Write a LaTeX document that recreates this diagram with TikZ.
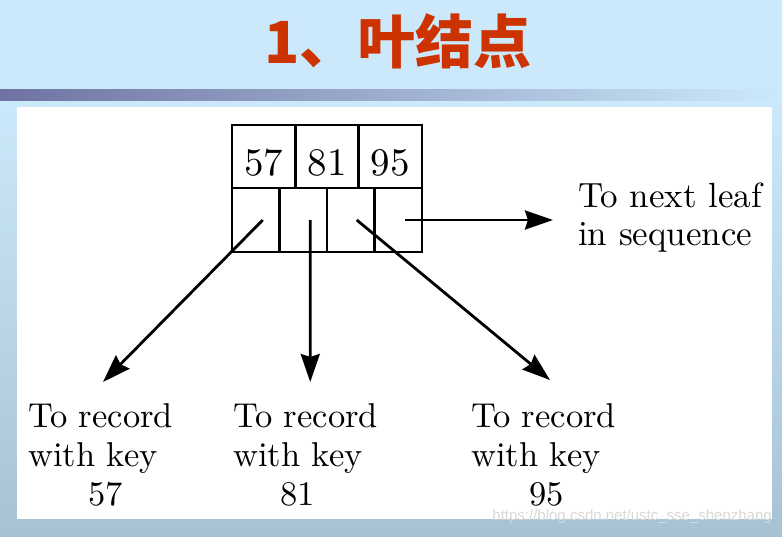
\documentclass[tikz,border=0pt]{standalone}
\usepackage{fontspec}
\newfontfamily\cjk{Noto Sans CJK SC}
\newfontfamily\wmfont{Liberation Sans}
\newfontfamily\cmten{lmroman10-regular}[Extension=.otf]
\usetikzlibrary{positioning,arrows.meta}
\definecolor{slidebg}{HTML}{CCE9FB}
\definecolor{slidebot}{HTML}{A7C3D3}
\definecolor{barleft}{HTML}{6F73A2}
\definecolor{titlered}{HTML}{CC3300}
\tikzset{
  keycell/.style={draw,line width=2.8pt,outer sep=0pt,inner sep=0pt,minimum width=63.33pt,minimum height=63pt,text height=37pt,text depth=0pt,font=\cmten\fontsize{39}{40}\selectfont},
  ptrcell/.style={draw,line width=2.8pt,outer sep=0pt,inner sep=0pt,minimum width=47.5pt,minimum height=64pt},
  ptr/.style={line width=2.8pt,-{Stealth[length=28pt,width=19pt,inset=3pt]}},
  lbl/.style={inner sep=0pt,align=left,anchor=north west,font=\cmten\fontsize{34.5}{39}\selectfont}
}
\begin{document}
\begin{tikzpicture}[x=1pt,y=-1pt]
  \useasboundingbox (0,0) rectangle (782,536);
  \fill[slidebg] (0,0) rectangle (782,100);
  \shade[top color=slidebg,bottom color=slidebot] (0,100) rectangle (782,536);
  \shade[left color=barleft,right color=slidebg] (0,89) rectangle (782,100);
  \fill[white] (17,107) rectangle (772,519);
  \node[font=\cjk\bfseries\fontsize{58}{60}\selectfont,text=titlered,inner sep=0pt] (title) at (398,41) {1、叶结点};
  \node[keycell] (k57) at (263.67,156.5) {57};
  \node[keycell,right=0pt of k57] (k81) {81};
  \node[keycell,right=0pt of k81] (k95) {95};
  \node[ptrcell,below right=0pt and 0pt of k57.south west] (p1) {};
  \node[ptrcell,right=0pt of p1] (p2) {};
  \node[ptrcell,right=0pt of p2] (p3) {};
  \node[ptrcell,right=0pt of p3] (p4) {};
  \node[lbl] (rec57) at (28,403) {To record\\with key\\\hspace*{60pt}57};
  \node[lbl] (rec81) at (233,403) {To record\\with key\\\hspace*{47pt}81};
  \node[lbl] (rec95) at (471,403) {To record\\with key\\\hspace*{58pt}95};
  \node[lbl,font=\cmten\fontsize{35}{38}\selectfont] (next) at (578,183) {To next leaf\\in sequence};
  \coordinate (e57) at (103,382);
  \coordinate (e81) at (310.25,382);
  \coordinate (e95) at (550,380);
  \draw[ptr] ([xshift=7pt]p1.center) -- (e57);
  \draw[ptr] ([xshift=7pt]p2.center) -- (e81);
  \draw[ptr] ([xshift=6pt]p3.center) -- (e95);
  \draw[ptr] ([xshift=7pt]p4.center) -- ([xshift=-25pt]p4.center -| next.west);
  \node[font=\wmfont\fontsize{15}{15}\selectfont,text=gray!30,anchor=east,inner sep=0pt] (wm) at (772,517) {https://blog.csdn.net/ustc\_sse\_shenzhang};
\end{tikzpicture}
\end{document}
